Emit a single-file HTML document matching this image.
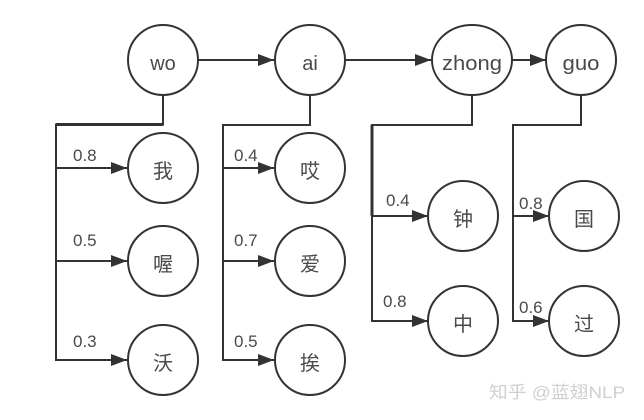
<!DOCTYPE html>
<html>
<head>
<meta charset="utf-8">
<style>
html,body{margin:0;padding:0;background:#fff;width:644px;height:420px;overflow:hidden}
svg{display:block}
text{font-family:"Liberation Sans","Noto Sans CJK SC",sans-serif;fill:#4a4a4a}
.n{font-size:20px;text-anchor:middle}
.c{font-size:20px;text-anchor:middle}
.l{font-size:17px}
.e{fill:#fff;stroke:#333;stroke-width:2}
.w{fill:none;stroke:#333;stroke-width:2}
</style>
</head>
<body>
<svg width="644" height="420" viewBox="0 0 644 420" xmlns="http://www.w3.org/2000/svg">
<defs>
<marker id="a" markerUnits="userSpaceOnUse" markerWidth="17" markerHeight="13" refX="16" refY="6.5" orient="auto"><path d="M0,0.5 L16,6.5 L0,12.5 Z" fill="#333"/></marker>
</defs>
<g class="w">
<path d="M198 60H274" marker-end="url(#a)"/>
<path d="M345 60H431" marker-end="url(#a)"/>
<path d="M512 60H546" marker-end="url(#a)"/>

<path d="M163 95V124.5H56V360H127" marker-end="url(#a)"/>
<path d="M56 124.5H163" stroke-width="3"/>
<path d="M56 168H127" marker-end="url(#a)"/>
<path d="M56 261H127" marker-end="url(#a)"/>

<path d="M310 95V125H223V360H274" marker-end="url(#a)"/>
<path d="M223 168H274" marker-end="url(#a)"/>
<path d="M223 261H274" marker-end="url(#a)"/>

<path d="M472 95V125H372V321H428" marker-end="url(#a)"/>
<path d="M372 125V216" stroke-width="3"/>
<path d="M372 216H428" marker-end="url(#a)"/>

<path d="M581 95V125H513V321H549" marker-end="url(#a)"/>
<path d="M513 216H549" marker-end="url(#a)"/>
</g>

<circle class="e" cx="163" cy="60" r="35"/>
<circle class="e" cx="310" cy="60" r="35"/>
<ellipse class="e" cx="472" cy="60" rx="40" ry="35"/>
<circle class="e" cx="581" cy="60" r="35"/>
<circle class="e" cx="163" cy="168" r="35"/>
<circle class="e" cx="163" cy="261" r="35"/>
<circle class="e" cx="163" cy="360" r="35"/>
<circle class="e" cx="310" cy="168" r="35"/>
<circle class="e" cx="310" cy="261" r="35"/>
<circle class="e" cx="310" cy="360" r="35"/>
<circle class="e" cx="463" cy="216" r="35"/>
<circle class="e" cx="463" cy="321" r="35"/>
<circle class="e" cx="584" cy="216" r="35"/>
<circle class="e" cx="584" cy="321" r="35"/>

<text class="n" x="163" y="70">wo</text>
<text class="n" x="310" y="70">ai</text>
<text class="n" x="472" y="70" textLength="60" lengthAdjust="spacingAndGlyphs">zhong</text>
<text class="n" x="581" y="70" textLength="37" lengthAdjust="spacingAndGlyphs">guo</text>

<text class="c" x="163" y="178">我</text>
<text class="c" x="163" y="271">喔</text>
<text class="c" x="163" y="370">沃</text>
<text class="c" x="310" y="178">哎</text>
<text class="c" x="310" y="271">爱</text>
<text class="c" x="310" y="370">挨</text>
<text class="c" x="463" y="226">钟</text>
<text class="c" x="463" y="331">中</text>
<text class="c" x="584" y="226">国</text>
<text class="c" x="584" y="331">过</text>

<text class="l" x="73" y="161">0.8</text>
<text class="l" x="73" y="246">0.5</text>
<text class="l" x="73" y="347">0.3</text>
<text class="l" x="234" y="161">0.4</text>
<text class="l" x="234" y="246">0.7</text>
<text class="l" x="234" y="347">0.5</text>
<text class="l" x="386" y="206">0.4</text>
<text class="l" x="383" y="307">0.8</text>
<text class="l" x="519" y="209">0.8</text>
<text class="l" x="519" y="313">0.6</text>

<text x="489" y="398" style="font-size:17px;fill:#cfcfcf" textLength="136" lengthAdjust="spacingAndGlyphs">知乎 @蓝翅NLP</text>
</svg>
</body>
</html>
